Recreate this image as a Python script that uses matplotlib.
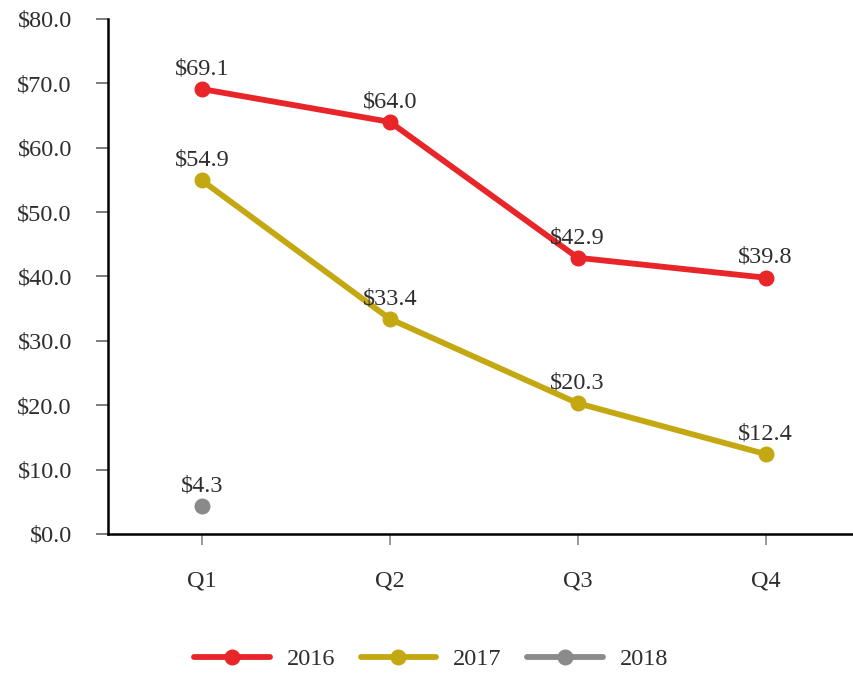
import matplotlib.pyplot as plt

quarters = ['Q1', 'Q2', 'Q3', 'Q4']
sales_2016 = [69.1, 64.0, 42.9, 39.8]
sales_2017 = [54.9, 33.4, 20.3, 12.4]
sales_2018 = [4.3]
y_ticks = [0, 10, 20, 30, 40, 50, 60, 70, 80]

plt.rcParams['font.family'] = ['Liberation Serif', 'DejaVu Serif']

fig = plt.figure(figsize=(8.54, 6.75), dpi=100)
ax = fig.add_axes([0.1265, 0.209, 0.88, 0.763])

x = list(range(len(quarters)))
series = [
    ('2016', sales_2016, '#e8262a'),
    ('2017', sales_2017, '#c4a812'),
    ('2018', sales_2018, '#8a8a8a'),
]
for name, vals, col in series:
    xs = x[:len(vals)]
    ax.plot(xs, vals, color=col, lw=4.2, marker='o', ms=10.5, label=name,
            solid_capstyle='round')
    for xi, v in zip(xs, vals):
        ax.annotate('${:.1f}'.format(v), (xi, v), xytext=(0, 7),
                    textcoords='offset points', ha='center', va='bottom',
                    fontsize=17.5, color='#2e2e2e')

ax.set_xlim(-0.5, 3.5)
ax.set_ylim(0, 80)
ax.set_xticks(x)
ax.set_xticklabels(quarters)
ax.set_yticks(y_ticks)
ax.set_yticklabels(['${:.1f}'.format(t) for t in y_ticks])

for s in ['top', 'right']:
    ax.spines[s].set_visible(False)
ax.spines['left'].set_linewidth(1.8)
ax.spines['bottom'].set_linewidth(1.8)
ax.tick_params(axis='y', length=9, width=1.2, color='#666666',
               labelsize=17.5, labelcolor='#2e2e2e', pad=17)
ax.tick_params(axis='x', length=8, width=1.2, color='#888888',
               labelsize=17.5, labelcolor='#2e2e2e', pad=18)

ax.legend(loc='center', bbox_to_anchor=(0.43, -0.243), ncol=3,
          frameon=False, fontsize=17.5, handlelength=3.1, handletextpad=0.7,
          columnspacing=1.05, labelcolor='#2e2e2e')

fig.savefig('out.png', dpi=100)
